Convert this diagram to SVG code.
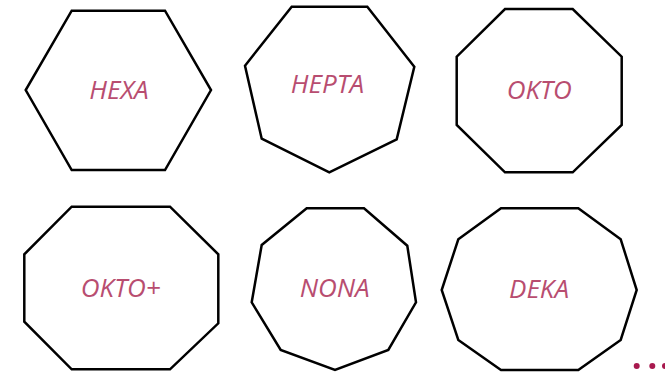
<svg xmlns="http://www.w3.org/2000/svg" width="665" height="373" viewBox="0 0 665 373">
<style>
.s{fill:#fff;stroke:#000;stroke-width:2.5;stroke-linejoin:miter}
.t{font-family:"Open Sans","Noto Sans",sans-serif;font-style:italic;font-size:26px;fill:#b84d70;text-anchor:middle}
.d{fill:#a8194e}
</style>
<rect width="665" height="373" fill="#fff"/>
<g id="hexa">
<polygon class="s" points="71.7,10.7 165,10.7 211,90 165,170 71.7,170 25.7,90"/>
<text class="t" x="119" y="99.3">HEXA</text>
</g>
<g id="hepta">
<polygon class="s" points="291.7,6.7 367.3,6.7 414.3,66.7 396.7,139.3 329.3,172.3 261.7,138.7 245,65.7"/>
<text class="t" x="327.5" y="93.3">HEPTA</text>
</g>
<g id="okto">
<polygon class="s" points="505,9 572.7,9 621.7,56.7 621.7,125 572.7,172.3 505,172.3 456.7,125 456.7,56.7"/>
<text class="t" x="539.3" y="99">OKTO</text>
</g>
<g id="oktoplus">
<polygon class="s" points="71.7,206.7 170,206.7 218.3,254.3 218.3,323.3 170,369.3 71.7,369.3 24.3,321.7 24.3,254.3"/>
<text class="t" x="120.8" y="296.7">OKTO+</text>
</g>
<g id="nona">
<polygon class="s" points="306.7,208.3 364,208.3 407.3,245.7 416,302.3 388.3,350 335,370 280.7,350 251.7,302.3 261.7,245"/>
<text class="t" x="334.7" y="297.3">NONA</text>
</g>
<g id="deka">
<polygon class="s" points="501,208.3 578.3,208.3 620.7,239.3 636.7,290 620.7,340 578.3,370 501,370 458.3,340 441.7,290 458.3,239.3"/>
<text class="t" x="539" y="298.3">DEKA</text>
</g>
<g id="ellipsis">
<circle class="d" cx="636.7" cy="366" r="3"/>
<circle class="d" cx="652.3" cy="366" r="3"/>
<circle class="d" cx="665" cy="366" r="3"/>
</g>
</svg>
